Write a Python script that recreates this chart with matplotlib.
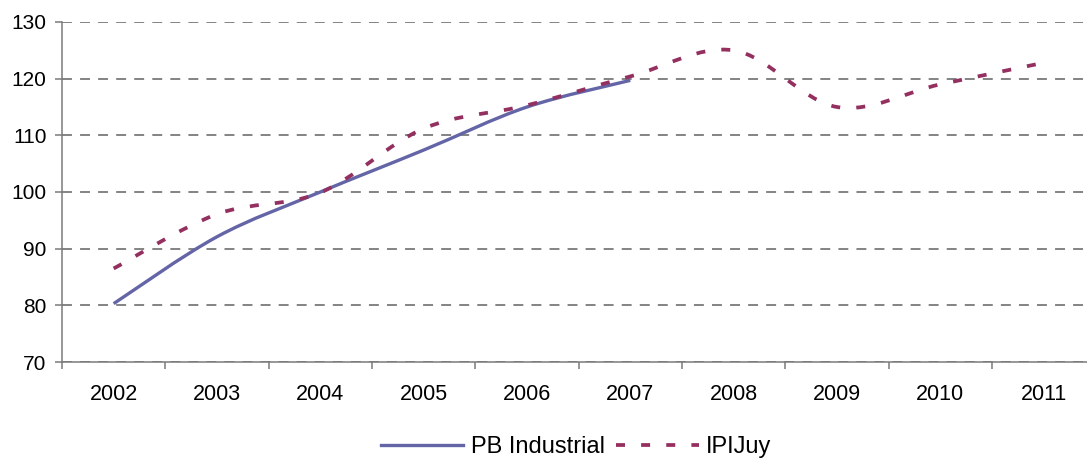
#!/usr/bin/env python3
"""
plot.py — PB Industrial vs IPIJuy, 2002-2011, Excel-style smoothed lines.
"""

import matplotlib
matplotlib.use("Agg")
import matplotlib.pyplot as plt
from matplotlib.path import Path
from matplotlib.patches import PathPatch
from matplotlib.lines import Line2D
import numpy as np

# ── Data ──────────────────────────────────────────────────────────────────────

YEARS = ["2002", "2003", "2004", "2005", "2006", "2007",
         "2008", "2009", "2010", "2011"]

PB_INDUSTRIAL = [80.3, 92.1, 100.0, 107.4, 115.0, 119.7]
IPI_JUY = [86.5, 96.1, 99.9, 111.2, 115.3, 120.4, 125.0, 115.0, 119.0, 122.8]

PB_COLOR = "#6465a6"
IPI_COLOR = "#94305f"
GRID_COLOR = "#7a7a7a"

IPI_DASH = (0, (2.4, 4.3))

plt.rcParams["font.family"] = ["Liberation Sans", "DejaVu Sans"]

# ── Helpers ───────────────────────────────────────────────────────────────────

def smooth_path(values):
    """Bezier path through (i, v) like Excel's smoothed line."""
    pts = np.column_stack([np.arange(len(values)), values]).astype(float)
    n = len(pts)
    verts = [pts[0]]
    codes = [Path.MOVETO]
    for i in range(n - 1):
        p_prev = pts[i - 1] if i > 0 else pts[i]
        p_next = pts[i + 2] if i + 2 < n else pts[i + 1]
        c1 = pts[i] + (pts[i + 1] - p_prev) / 6.0
        c2 = pts[i + 1] - (p_next - pts[i]) / 6.0
        verts += [c1, c2, pts[i + 1]]
        codes += [Path.CURVE4] * 3
    return Path(verts, codes)

# ── Plot ──────────────────────────────────────────────────────────────────────

def plot(out_path):
    fig = plt.figure(figsize=(10.87, 4.68), dpi=100)
    ax = fig.add_axes([62 / 1087, 1 - 362 / 468, 1 - 62 / 1087, 340 / 468])

    ax.set_xlim(-0.5, 9.42)
    ax.set_ylim(70, 130)

    ax.add_patch(PathPatch(smooth_path(PB_INDUSTRIAL), fill=False,
                           edgecolor=PB_COLOR, lw=2.4, capstyle="butt",
                           zorder=3))
    ax.add_patch(PathPatch(smooth_path(IPI_JUY), fill=False,
                           edgecolor=IPI_COLOR, lw=2.7, capstyle="butt",
                           linestyle=IPI_DASH, zorder=4))

    # axes styling
    for side in ("top", "right"):
        ax.spines[side].set_visible(False)
    for side in ("left", "bottom"):
        ax.spines[side].set_color(GRID_COLOR)
        ax.spines[side].set_linewidth(1.1)

    ax.set_yticks(range(70, 131, 10))
    ax.yaxis.grid(True, color=GRID_COLOR, linestyle=(0, (5.5, 4.5)), lw=1.3)
    ax.tick_params(axis="y", length=5, width=1.1, color=GRID_COLOR,
                   labelsize=15, pad=6)

    ax.set_xticks(range(len(YEARS)))
    ax.set_xticklabels(YEARS)
    ax.set_xticks(np.arange(-0.5, 9.5, 1.0), minor=True)
    ax.tick_params(axis="x", which="major", length=0, labelsize=15.5, pad=16)
    ax.tick_params(axis="x", which="minor", length=5, width=1.1,
                   color=GRID_COLOR)

    handles = [
        Line2D([], [], color=PB_COLOR, lw=2.4),
        Line2D([], [], color=IPI_COLOR, lw=2.7, linestyle=IPI_DASH,
               dash_capstyle="butt"),
    ]
    fig.legend(handles, ["PB Industrial", "IPIJuy"], loc="lower center",
               bbox_to_anchor=(0.53, -0.025), ncol=2, frameon=False,
               fontsize=17, handlelength=3.5, handletextpad=0.3,
               columnspacing=0.5)

    fig.savefig(out_path, dpi=100)
    plt.close(fig)


def main():
    plot("out.png")


if __name__ == "__main__":
    main()
